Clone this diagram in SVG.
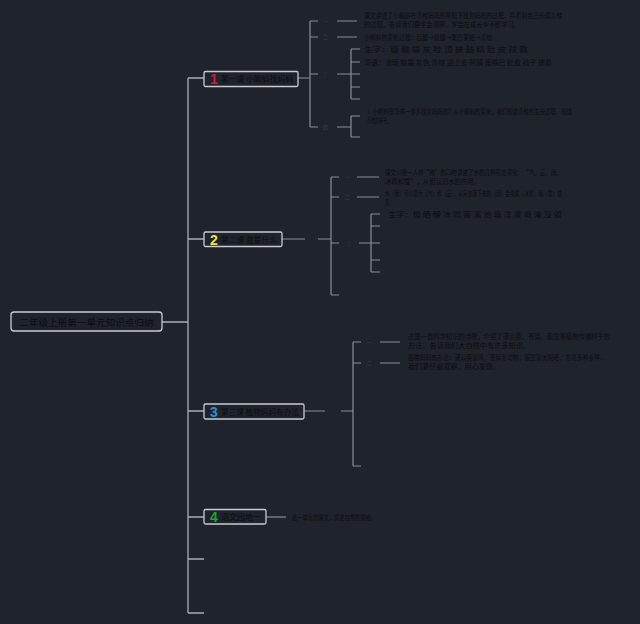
<svg xmlns="http://www.w3.org/2000/svg" width="640" height="624" viewBox="0 0 640 624">
<style>
.bg{fill:#1f232c}
.box{fill:#1f232c;stroke:#c9cbcf;stroke-width:1.3}
.ln{fill:none;stroke:#a9adb4;stroke-width:1.3}
.ln2{fill:none;stroke:#8a8e96;stroke-width:1.2}
.t{font-family:"Noto Sans CJK SC","Liberation Sans",sans-serif;fill:#0b0d11}
.nt{font-size:7.6px}
.st{font-size:6.4px}
.lb{font-size:5px;fill:#3a3e46}
.num{font-family:"Liberation Sans",sans-serif;font-weight:bold;font-size:14px}
</style>
<rect class="bg" x="0" y="0" width="640" height="624"/>
<g id="connectors">
<path class="ln" d="M162 322H188M188 78V613M188 78H204M188 239H204M188 411H204M188 517H204M188 559H204M188 613H204"/>
<path class="ln2" d="M298 78H310M310 21V127M310 21H318M310 37H318M310 74H318M310 127H318M337 21H357M337 37H357M337 74H351M351 49V99M351 49H360M351 62H360M351 74H360M351 87H360M351 99H360M337 127H351M351 116V137M351 116H360M351 137H360"/>
<path class="ln2" d="M282 239H305M318 239H331M331 177V295M331 177H339M331 197H339M331 243H339M331 295H339M357 177H379M357 197H379M359 243H371M371 214V272M371 214H380M371 226H380M371 243H380M371 260H380M371 272H380"/>
<path class="ln2" d="M304 411H325M341 411H353M353 342V466M353 342H361M353 363H361M353 466H361M380 342H400M380 363H400"/>
<path class="ln2" d="M266 517H286"/>
</g>
<g id="root">
<rect class="box" x="11" y="312" width="151" height="19" rx="3"/>
<text class="t" x="86.5" y="325.5" font-size="9.6" text-anchor="middle">二年级上册第一单元知识点归纳</text>
</g>
<g id="b1">
<rect class="box" x="204" y="71.5" width="94" height="15" rx="1.5"/>
<text class="num" x="210" y="84" fill="#d11a3a">1</text>
<text class="t nt" x="221" y="82" textLength="72" lengthAdjust="spacingAndGlyphs">第一课 小蝌蚪找妈妈</text>
</g>
<g id="b1s">
<text class="t lb" x="323" y="23">一</text>
<text class="t lb" x="323" y="39">二</text>
<text class="t lb" x="323" y="76">三</text>
<text class="t lb" x="323" y="129">四</text>
<text class="t st" x="364" y="18" textLength="198" lengthAdjust="spacingAndGlyphs">课文讲述了小蝌蚪在青蛙妈妈的帮助下找到妈妈的过程，并看到自己长成青蛙</text>
<text class="t st" x="364" y="27" textLength="156" lengthAdjust="spacingAndGlyphs">的过程，告诉我们要学会观察，学会在成长中不断学习。</text>
<text class="t st" x="364" y="39.5" textLength="128" lengthAdjust="spacingAndGlyphs">小蝌蚪的变化过程：后腿→前腿→尾巴变短→青蛙</text>
<text class="t st" x="364" y="51.5" textLength="164" lengthAdjust="spacingAndGlyphs">生字：塘  脑  袋  灰  哇  顶  披  鼓  睛  肚  皮  孩  跳</text>
<text class="t st" x="364" y="64.5" textLength="188" lengthAdjust="spacingAndGlyphs">词语：池塘  脑袋  灰色  青蛙  迎上去  阿姨  宽嘴巴  肚皮  孩子  披着</text>
<text class="t st" x="367" y="114" textLength="205" lengthAdjust="spacingAndGlyphs">1. 小蝌蚪是怎样一步步找到妈妈的？从小蝌蚪的变化，我们知道青蛙的生长过程，知道</text>
<text class="t st" x="367" y="123" textLength="24" lengthAdjust="spacingAndGlyphs">青蛙的样子。</text>
</g>
<g id="b2">
<rect class="box" x="204" y="232" width="78" height="14.5" rx="1.5"/>
<text class="num" x="210" y="244.5" fill="#f2e13c">2</text>
<text class="t nt" x="221" y="242.5" textLength="56" lengthAdjust="spacingAndGlyphs">第二课 我是什么</text>
</g>
<g id="b2s">
<text class="t lb" x="345" y="179">一</text>
<text class="t lb" x="345" y="199">二</text>
<text class="t lb" x="347" y="245">三</text>
<text class="t st" x="385" y="175" textLength="177" lengthAdjust="spacingAndGlyphs">课文以第一人称“我”的口吻讲述了水的几种形态变化：“汽、云、雨、</text>
<text class="t st" x="385" y="184" textLength="95" lengthAdjust="spacingAndGlyphs">冰雹和雪”，从而认识水的作用。</text>
<text class="t st" x="385" y="196" textLength="177" lengthAdjust="spacingAndGlyphs">水（雨）可以变为（汽）和（云），从天空落下来的（雨）会变成（冰雹）和（雪）或</text>
<text class="t st" x="385" y="205" textLength="8" lengthAdjust="spacingAndGlyphs">雾。</text>
<text class="t st" x="388" y="216.5" textLength="174" lengthAdjust="spacingAndGlyphs">生字：极  晒  暖  冰  雹  害  溪  池  塘  洋  灌  溉  淹  没  毁</text>
</g>
<g id="b3">
<rect class="box" x="204" y="404" width="100" height="15" rx="1.5"/>
<text class="num" x="210" y="416.5" fill="#2e8fd8">3</text>
<text class="t nt" x="221" y="414.5" textLength="78" lengthAdjust="spacingAndGlyphs">第三课 植物妈妈有办法</text>
</g>
<g id="b3s">
<text class="t lb" x="367" y="344">一</text>
<text class="t lb" x="367" y="365">二</text>
<text class="t st" x="408" y="339" textLength="202" lengthAdjust="spacingAndGlyphs">这是一首科学知识的诗歌，介绍了蒲公英、苍耳、豌豆等植物传播种子的</text>
<text class="t st" x="408" y="348" textLength="122" lengthAdjust="spacingAndGlyphs">方法，告诉我们大自然中有许多知识。</text>
<text class="t st" x="408" y="360" textLength="198" lengthAdjust="spacingAndGlyphs">植物妈妈有办法：蒲公英靠风，苍耳靠动物，豌豆靠太阳晒，方法多种多样，</text>
<text class="t st" x="408" y="369" textLength="92" lengthAdjust="spacingAndGlyphs">我们要仔细观察，用心发现。</text>
</g>
<g id="b4">
<rect class="box" x="204" y="509.5" width="62" height="14.5" rx="1.5"/>
<text class="num" x="210" y="522" fill="#1fa52d">4</text>
<text class="t nt" x="221" y="520" textLength="40" lengthAdjust="spacingAndGlyphs">语文园地一</text>
<text class="t st" x="292" y="519.5" textLength="84" lengthAdjust="spacingAndGlyphs">这一单元的课文，讲述自然的奥秘。</text>
</g>
</svg>
